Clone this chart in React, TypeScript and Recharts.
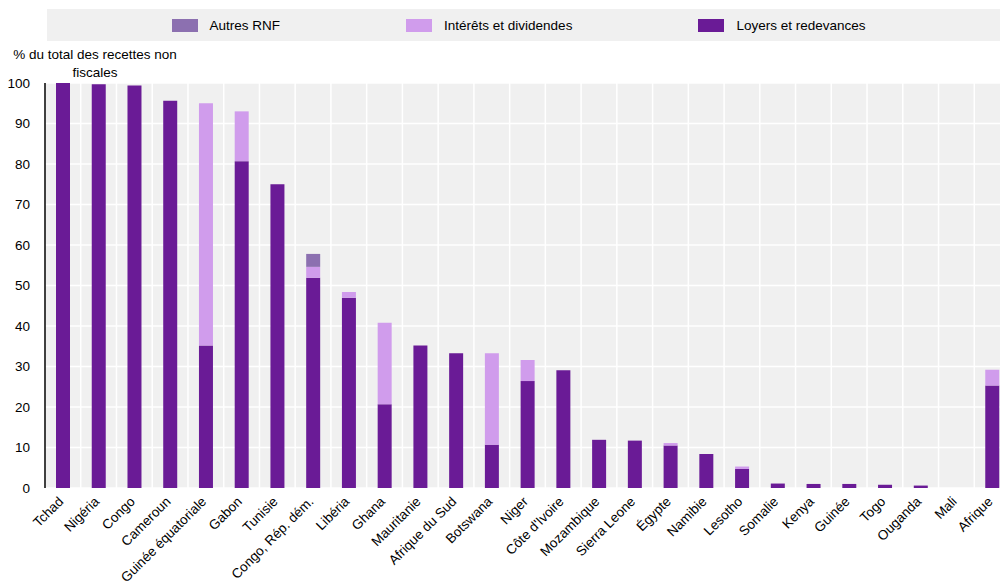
import React from "react";
import { BarChart, Bar, XAxis, YAxis, CartesianGrid, Legend } from "recharts";

const categories = [
  "Tchad", "Nigéria", "Congo", "Cameroun", "Guinée équatoriale", "Gabon", "Tunisie",
  "Congo, Rép. dém.", "Libéria", "Ghana", "Mauritanie", "Afrique du Sud", "Botswana",
  "Niger", "Côte d'Ivoire", "Mozambique", "Sierra Leone", "Égypte", "Namibie", "Lesotho",
  "Somalie", "Kenya", "Guinée", "Togo", "Ouganda", "Mali", "Afrique",
];

const loyers = [
  100, 99.7, 99.4, 95.6, 35.2, 80.7, 75.0, 51.9, 47.0, 20.7, 35.2, 33.3, 10.7,
  26.4, 29.1, 11.9, 11.7, 10.5, 8.4, 4.7, 1.1, 1.0, 1.0, 0.8, 0.6, 0, 25.3,
];
const interets = [
  0, 0, 0, 0, 59.8, 12.3, 0, 2.7, 1.4, 20.1, 0, 0, 22.6,
  5.2, 0, 0, 0, 0.6, 0, 0.6, 0, 0, 0, 0, 0, 0, 3.9,
];
const autres = [
  0, 0, 0, 0, 0, 0, 0, 3.2, 0, 0, 0, 0, 0,
  0, 0, 0, 0, 0, 0, 0, 0, 0, 0, 0, 0, 0, 0,
];

const yTicks = [0, 10, 20, 30, 40, 50, 60, 70, 80, 90, 100];
const boundaryTicks = categories.map((_, i) => i).concat([categories.length]);

const seriesNames = {
  autres: "Autres RNF",
  interets: "Intérêts et dividendes",
  loyers: "Loyers et redevances",
};
const seriesColors = {
  autres: "#8c70b0",
  interets: "#d09cec",
  loyers: "#6a1b96",
};
const legendOrder = ["autres", "interets", "loyers"];

const yTitleLines = ["% du total des recettes non", "fiscales"];

const data = categories.map((name, i) => ({
  name,
  idx: i,
  loyers: loyers[i],
  interets: interets[i],
  autres: autres[i],
}));

const FONT = "'Liberation Sans', Arial, Helvetica, sans-serif";
const FS = 13.5;

const XTick = (props: any) => {
  const { x, y, payload } = props;
  return (
    <g transform={`translate(${x - 2},${y + 5})`}>
      <text
        x={0}
        y={0}
        dy="0.35em"
        textAnchor="end"
        transform="rotate(-45)"
        fontSize={FS}
        fontFamily={FONT}
        fill="#000"
      >
        {payload.value}
      </text>
    </g>
  );
};

const EmptyTick = () => <g />;

const LegendContent = () => (
  <div style={{ height: 74, width: 953 }}>
    <div
      style={{
        height: 32,
        background: "#f0f0f0",
        display: "flex",
        alignItems: "center",
        justifyContent: "center",
        gap: 126,
        paddingRight: 10,
        boxSizing: "border-box",
        fontFamily: FONT,
        fontSize: FS,
        color: "#000",
      }}
    >
      {legendOrder.map((k) => (
        <div key={k} style={{ display: "flex", alignItems: "center" }}>
          <span
            style={{
              display: "inline-block",
              width: 26,
              height: 13,
              background: (seriesColors as any)[k],
              marginRight: 12,
            }}
          />
          <span>{(seriesNames as any)[k]}</span>
        </div>
      ))}
    </div>
  </div>
);

export default function App() {
  return (
    <div
      style={{
        position: "absolute",
        left: 0,
        top: 0,
        width: 1000,
        height: 581,
        overflow: "hidden",
        background: "#fff",
      }}
    >
      <BarChart
        width={1010}
        height={581}
        data={data}
        margin={{ top: 9, right: 0, bottom: 0, left: 0 }}
        barSize={14}
      >
        <Legend
          verticalAlign="top"
          content={<LegendContent />}
          wrapperStyle={{ left: 47, top: 9, width: 953, height: 74 }}
        />
        <CartesianGrid
          xAxisId="grid"
          fill="#f0f0f0"
          stroke="#ffffff"
          strokeWidth={1.5}
          fillOpacity={1}
        />
        <XAxis
          xAxisId="grid"
          type="number"
          dataKey="idx"
          domain={[0, categories.length]}
          allowDataOverflow
          ticks={boundaryTicks}
          interval={0}
          height={0}
          mirror
          tickSize={5}
          tick={<EmptyTick />}
          tickLine={{ stroke: "#000", strokeWidth: 1.5 }}
          axisLine={{ stroke: "#000", strokeWidth: 1.5 }}
        />
        <XAxis
          dataKey="name"
          interval={0}
          height={93}
          tickLine={false}
          axisLine={false}
          tickMargin={0}
          tick={<XTick />}
        />
        <YAxis
          domain={[0, 100]}
          ticks={yTicks}
          interval={0}
          width={45}
          tickLine={false}
          tickMargin={9}
          axisLine={{ stroke: "#000", strokeWidth: 1.5 }}
          tick={{ fontSize: FS, fill: "#000", fontFamily: FONT }}
        />
        <Bar dataKey="loyers" name={seriesNames.loyers} stackId="a" fill={seriesColors.loyers} isAnimationActive={false} />
        <Bar dataKey="interets" name={seriesNames.interets} stackId="a" fill={seriesColors.interets} isAnimationActive={false} />
        <Bar dataKey="autres" name={seriesNames.autres} stackId="a" fill={seriesColors.autres} isAnimationActive={false} />
      </BarChart>
      <div
        style={{
          position: "absolute",
          left: 12,
          top: 46,
          width: 166,
          textAlign: "center",
          fontFamily: FONT,
          fontSize: FS,
          lineHeight: "18px",
          color: "#000",
          whiteSpace: "nowrap",
        }}
      >
        {yTitleLines.map((l) => (
          <div key={l}>{l}</div>
        ))}
      </div>
    </div>
  );
}
